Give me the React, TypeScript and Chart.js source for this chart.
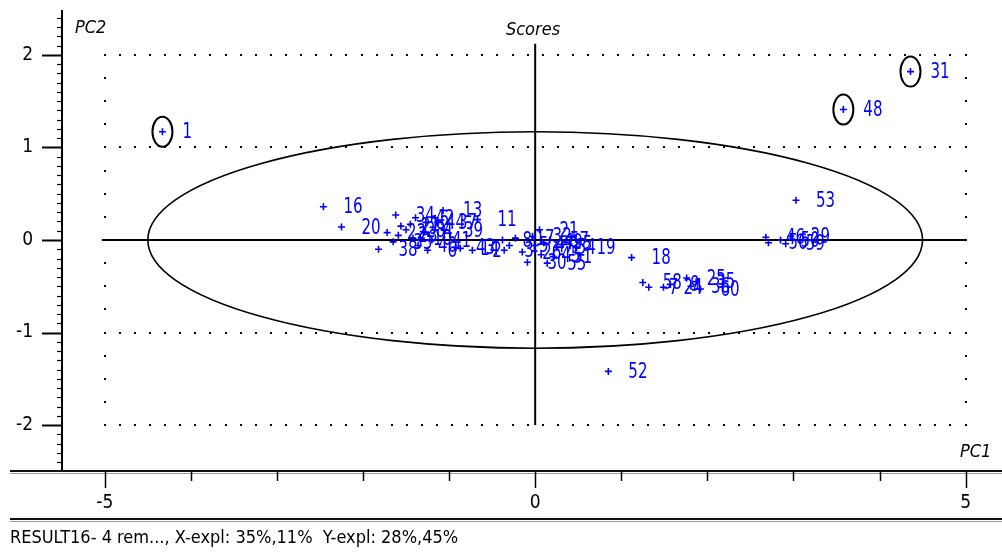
import React, { useEffect, useRef } from "react";
import { Chart, registerables } from "chart.js";

Chart.register(...registerables);

// ---- data ----
const sampleIds = [
  1, 31, 48, 52, 53, 16, 20,
  38, 22, 34, 27, 23, 33, 28, 42, 12, 10, 40, 4, 44, 6, 41, 13, 37, 39, 43, 11, 2, 14,
  8, 15, 17, 3, 26, 30, 32, 47, 21, 45, 49, 55, 57, 51, 54, 5, 19, 18,
  58, 7, 24, 9, 25, 36, 35, 60,
  46, 56, 50, 59, 29,
];
const pc1Scores = [
  -4.33, 4.36, 3.58, 0.85, 3.03, -2.46, -2.25,
  -1.82, -1.72, -1.62, -1.56, -1.59, -1.65, -1.5, -1.39, -1.45, -1.42, -1.36, -1.3, -1.27, -1.25, -1.2, -1.07, -1.13, -1.06, -0.92, -0.67, -0.73, -0.87,
  -0.38, -0.3, -0.23, -0.36, -0.15, -0.09, -0.03, 0.0, 0.05, 0.07, 0.1, 0.14, 0.17, 0.21, 0.25, 0.32, 0.48, 1.12,
  1.25, 1.32, 1.49, 1.57, 1.76, 1.81, 1.87, 1.92,
  2.68, 2.71, 2.85, 2.91, 2.97,
];
const pc2Scores = [
  1.17, 1.82, 1.41, -1.42, 0.43, 0.36, 0.14,
  -0.1, 0.08, 0.27, 0.15, 0.05, -0.02, 0.11, 0.24, 0.17, 0.02, -0.06, 0.09, 0.19, -0.11, 0.0, 0.32, 0.19, 0.11, -0.08, 0.22, -0.11, -0.09,
  0.0, -0.06, 0.02, -0.11, -0.13, -0.24, 0.04, -0.06, 0.11, -0.16, -0.03, -0.25, 0.0, -0.18, -0.08, -0.05, -0.08, -0.19,
  -0.46, -0.51, -0.51, -0.48, -0.41, -0.5, -0.45, -0.53,
  0.03, -0.03, 0.0, -0.04, 0.04,
];
const circledIds = [1, 31, 48];
const xTickValues = [-5, 0, 5];
const xMinorTickValues = [-4, -3, -2, -1, 1, 2, 3, 4];
const yTickValues = [-2, -1, 0, 1, 2];
const ellipseSemiAxes = [4.5, 1.17];
const titleText = "Scores";
const xAxisName = "PC1";
const yAxisName = "PC2";
const captionText = "RESULT16- 4 rem..., X-expl: 35%,11%  Y-expl: 28%,45%";

const NARROW = "'Liberation Sans Narrow', 'Arial Narrow', 'DejaVu Sans Condensed', sans-serif";
const BLUE = "#0000ff";

function drawText(ctx: CanvasRenderingContext2D, text: string, x: number, y: number, font: string, color: string, align: CanvasTextAlign, sx = 0.85) {
  ctx.save();
  ctx.font = font;
  ctx.fillStyle = color;
  ctx.textBaseline = "middle";
  ctx.textAlign = align;
  ctx.translate(x, y);
  ctx.scale(sx, 1);
  ctx.fillText(text, 0, 0);
  ctx.restore();
}

const decorPlugin = {
  id: "decor",
  beforeDatasetsDraw(chart: any) {
    const ctx: CanvasRenderingContext2D = chart.ctx;
    const xs = chart.scales.x;
    const ys = chart.scales.y;
    const area = chart.chartArea;
    const W = chart.width;
    ctx.save();

    // dotted grid rows
    ctx.fillStyle = "#000";
    const xL = xs.getPixelForValue(-5);
    const xR = xs.getPixelForValue(5);
    const nx = Math.round((xR - xL) / 15.2);
    [2, 1, -1, -2].forEach((v) => {
      const py = Math.round(ys.getPixelForValue(v));
      for (let i = 0; i <= nx; i++) {
        const px = Math.round(xL + ((xR - xL) * i) / nx);
        ctx.fillRect(px - 1, py - 1, 2, 2);
      }
    });
    // dotted columns
    [-5, 5].forEach((v) => {
      const px = Math.round(xs.getPixelForValue(v));
      for (let k = -8; k <= 8; k++) {
        const py = Math.round(ys.getPixelForValue(k * 0.25));
        ctx.fillRect(px - 1, py - 1, 2, 2);
      }
    });

    // zero lines
    ctx.strokeStyle = "#000";
    ctx.lineWidth = 2;
    ctx.beginPath();
    ctx.moveTo(xL - 3, ys.getPixelForValue(0));
    ctx.lineTo(xR, ys.getPixelForValue(0));
    ctx.stroke();
    ctx.beginPath();
    ctx.moveTo(xs.getPixelForValue(0), ys.getPixelForValue(2.12));
    ctx.lineTo(xs.getPixelForValue(0), ys.getPixelForValue(-2));
    ctx.stroke();

    // ellipse
    const cx = xs.getPixelForValue(0);
    const cy = ys.getPixelForValue(0);
    const rx = xs.getPixelForValue(ellipseSemiAxes[0]) - cx;
    const ry = cy - ys.getPixelForValue(ellipseSemiAxes[1]);
    ctx.lineWidth = 1.6;
    ctx.beginPath();
    ctx.ellipse(cx, cy, rx, ry, 0, 0, Math.PI * 2);
    ctx.stroke();

    // y axis line and ticks
    const ax = area.left;
    ctx.lineWidth = 2;
    ctx.beginPath();
    ctx.moveTo(ax, area.top);
    ctx.lineTo(ax, area.bottom);
    ctx.stroke();
    for (let k = -24; k <= 24; k++) {
      const v = k / 10;
      const py = Math.round(ys.getPixelForValue(v)) + 0.5;
      const major = k % 10 === 0;
      ctx.lineWidth = major ? 2 : 1.2;
      ctx.beginPath();
      ctx.moveTo(ax - (major ? 20 : 5), py);
      ctx.lineTo(ax, py);
      ctx.stroke();
    }

    // x axis double line + ticks
    const by = area.bottom;
    ctx.lineWidth = 2;
    ctx.strokeStyle = "#111";
    ctx.beginPath();
    ctx.moveTo(10, by + 1);
    ctx.lineTo(W, by + 1);
    ctx.stroke();
    ctx.strokeStyle = "#999";
    ctx.lineWidth = 1;
    ctx.beginPath();
    ctx.moveTo(10, by + 3.5);
    ctx.lineTo(W, by + 3.5);
    ctx.stroke();
    ctx.strokeStyle = "#000";
    ctx.lineWidth = 1.5;
    xTickValues.forEach((v) => {
      const px = Math.round(xs.getPixelForValue(v)) + 0.5;
      ctx.beginPath();
      ctx.moveTo(px, by + 2);
      ctx.lineTo(px, by + 18);
      ctx.stroke();
    });
    xMinorTickValues.forEach((v) => {
      const px = Math.round(xs.getPixelForValue(v)) + 0.5;
      ctx.beginPath();
      ctx.moveTo(px, by + 2);
      ctx.lineTo(px, by + 11);
      ctx.stroke();
    });

    // bottom separator
    ctx.strokeStyle = "#111";
    ctx.lineWidth = 2;
    ctx.beginPath();
    ctx.moveTo(10, 519);
    ctx.lineTo(W, 519);
    ctx.stroke();
    ctx.strokeStyle = "#999";
    ctx.lineWidth = 1;
    ctx.beginPath();
    ctx.moveTo(10, 521.5);
    ctx.lineTo(W, 521.5);
    ctx.stroke();

    // texts
    drawText(ctx, captionText, 10, 538, `18px ${NARROW}`, "#000", "left", 1.0);
    drawText(ctx, titleText, 533, 30, `italic 18px ${NARROW}`, "#000", "center", 1.0);
    drawText(ctx, yAxisName, 75, 28, `italic 18px ${NARROW}`, "#000", "left", 1.0);
    drawText(ctx, xAxisName, 960, 452, `italic 18px ${NARROW}`, "#000", "left", 1.0);

    ctx.restore();
  },
  afterDatasetsDraw(chart: any) {
    const ctx: CanvasRenderingContext2D = chart.ctx;
    const xs = chart.scales.x;
    const ys = chart.scales.y;
    ctx.save();
    sampleIds.forEach((id, i) => {
      const px = xs.getPixelForValue(pc1Scores[i]);
      const py = ys.getPixelForValue(pc2Scores[i]);
      drawText(ctx, String(id), px + 20, py + 1, `22px ${NARROW}`, BLUE, "left", 0.76);
      if (circledIds.includes(id)) {
        ctx.strokeStyle = "#000";
        ctx.lineWidth = 2;
        ctx.beginPath();
        ctx.ellipse(px, py, 10, 15, 0, 0, Math.PI * 2);
        ctx.stroke();
      }
    });
    ctx.restore();
  },
};

function zeroPadding(s: any) {
  s.paddingTop = 0;
  s.paddingBottom = 0;
  s.paddingLeft = 0;
  s.paddingRight = 0;
}

export default function App() {
  const canvasRef = useRef<HTMLCanvasElement | null>(null);

  useEffect(() => {
    if (!canvasRef.current) return;
    const points = sampleIds.map((_, i) => ({ x: pc1Scores[i], y: pc2Scores[i] }));
    const chart = new Chart(canvasRef.current, {
      type: "scatter",
      data: {
        datasets: [
          {
            data: points,
            pointStyle: "cross",
            pointRadius: 3.5,
            pointBorderWidth: 1.6,
            borderColor: BLUE,
            backgroundColor: BLUE,
          } as any,
        ],
      },
      options: {
        animation: false,
        responsive: false,
        devicePixelRatio: 1,
        layout: { padding: { top: 10, left: 0, right: 0, bottom: 0 } },
        plugins: {
          legend: { display: false },
          tooltip: { enabled: false },
          title: { display: false },
        },
        scales: {
          x: {
            type: "linear",
            position: "bottom",
            min: -5.497,
            max: 5.358,
            grid: { display: false, drawTicks: false },
            border: { display: false },
            afterBuildTicks: (s: any) => {
              s.ticks = xTickValues.map((v) => ({ value: v }));
            },
            afterFit: (s: any) => {
              s.height = 83;
              zeroPadding(s);
            },
            ticks: {
              padding: 22,
              color: "#000",
              font: { family: NARROW, size: 19 },
              callback: (v: any) => String(v),
              maxRotation: 0,
              autoSkip: false,
            },
          },
          y: {
            type: "linear",
            position: "left",
            min: -2.486,
            max: 2.486,
            grid: { display: false, drawTicks: false },
            border: { display: false },
            afterBuildTicks: (s: any) => {
              s.ticks = yTickValues.map((v) => ({ value: v }));
            },
            afterFit: (s: any) => {
              s.width = 62;
              zeroPadding(s);
            },
            ticks: {
              padding: 29,
              color: "#000",
              font: { family: NARROW, size: 19 },
              callback: (v: any) => String(v),
              autoSkip: false,
            },
          },
        },
      },
      plugins: [decorPlugin],
    });
    return () => chart.destroy();
  }, []);

  return (
    <div style={{ position: "absolute", left: 0, top: 0, width: 1002, height: 553, background: "#fff" }}>
      <canvas ref={canvasRef} width={1002} height={553} style={{ width: 1002, height: 553, display: "block" }} />
    </div>
  );
}
